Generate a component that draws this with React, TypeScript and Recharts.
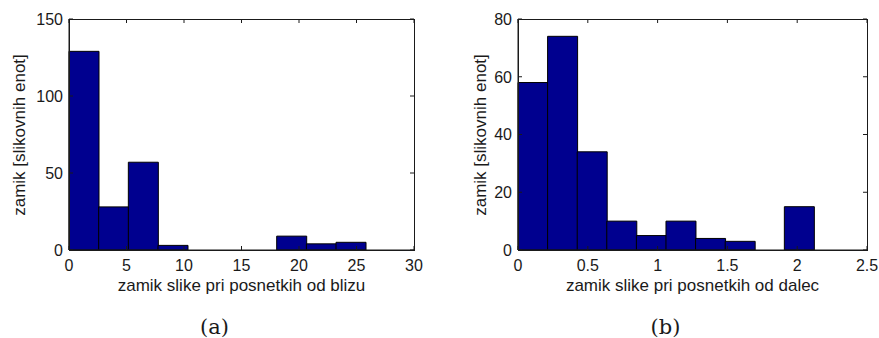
import React from 'react'
import { Bar, BarChart, ReferenceLine, XAxis, YAxis } from 'recharts'

// histogram (a): close-up shots
const binsA = [1.29, 3.87, 6.45, 9.03, 11.61, 14.19, 16.77, 19.35, 21.93, 24.51]
const countsA = [129, 28, 57, 3, 0, 0, 0, 9, 4, 5]
const xTicksA = [0, 5, 10, 15, 20, 25, 30]
const yTicksA = [0, 50, 100, 150]

// histogram (b): far shots
const binsB = [0.106, 0.318, 0.53, 0.742, 0.954, 1.166, 1.378, 1.59, 1.802, 2.014]
const countsB = [58, 74, 34, 10, 5, 10, 4, 3, 0, 15]
const xTicksB = [0, 0.5, 1, 1.5, 2, 2.5]
const yTicksB = [0, 20, 40, 60, 80]

const yLabel = 'zamik [slikovnih enot]'
const xLabelA = 'zamik slike pri posnetkih od blizu'
const xLabelB = 'zamik slike pri posnetkih od dalec'

const FONT = '"Liberation Sans", Arial, Helvetica, sans-serif'
const INK = '#1a1a1a'
const BAR = '#00008F'
const TL = 4

const BottomTick = (props: any) => {
  const { x, y, payload } = props
  return (
    <text x={x} y={y + 21} textAnchor="middle" fontSize={16} fontFamily={FONT} fill={INK}>
      {payload.value}
    </text>
  )
}

const LeftTick = (props: any) => {
  const { x, y, payload } = props
  return (
    <text x={x - 6} y={y} dy="0.36em" textAnchor="end" fontSize={16} fontFamily={FONT} fill={INK}>
      {payload.value}
    </text>
  )
}

// inward tick marks at both ends of a reference line (MATLAB-style box axes)
const VTickPair = (p: any) => {
  const top = Math.min(p.y1, p.y2)
  const bot = Math.max(p.y1, p.y2)
  return (
    <g>
      <line x1={p.x1} y1={top} x2={p.x1} y2={top + TL} stroke={INK} />
      <line x1={p.x1} y1={bot} x2={p.x1} y2={bot - TL} stroke={INK} />
    </g>
  )
}

const HTickPair = (p: any) => {
  const l = Math.min(p.x1, p.x2)
  const r = Math.max(p.x1, p.x2)
  return (
    <g>
      <line x1={l} y1={p.y1} x2={l + TL} y2={p.y1} stroke={INK} />
      <line x1={r} y1={p.y1} x2={r - TL} y2={p.y1} stroke={INK} />
    </g>
  )
}

type HistProps = {
  bins: number[]
  counts: number[]
  xTicks: number[]
  yTicks: number[]
  xLabel: string
  caption: string
  width: number
  yAxisWidth: number
  marginRight: number
  yLabelX: number
}

const Histogram = ({ bins, counts, xTicks, yTicks, xLabel, caption, width, yAxisWidth, marginRight, yLabelX }: HistProps) => {
  const data = bins.map((b, i) => ({ bin: b, count: counts[i] }))
  const xDomain = [xTicks[0], xTicks[xTicks.length - 1]]
  const yDomain = [yTicks[0], yTicks[yTicks.length - 1]]
  const plotLeft = yAxisWidth
  const plotRight = width - marginRight
  const plotTop = 19
  const plotBottom = 250
  const cx = (plotLeft + plotRight) / 2
  const cy = (plotTop + plotBottom) / 2
  const axisProps = { stroke: INK, tickLine: false, tickSize: 0, tickMargin: 0 }
  return (
    <div style={{ position: 'relative', width, height: 338 }}>
      <BarChart
        width={width}
        height={338}
        data={data}
        barCategoryGap={0}
        barGap={0}
        margin={{ top: plotTop, right: marginRight, bottom: 58, left: 0 }}
      >
        <XAxis
          dataKey="bin"
          type="number"
          domain={xDomain}
          ticks={xTicks}
          height={30}
          tick={<BottomTick />}
          {...axisProps}
        />
        <YAxis
          type="number"
          domain={yDomain}
          ticks={yTicks}
          width={yAxisWidth}
          tick={<LeftTick />}
          {...axisProps}
        />
        <Bar dataKey="count" fill={BAR} stroke="#000" strokeWidth={1} isAnimationActive={false} />
        {xTicks.map((t) => (
          <ReferenceLine key={'x' + t} x={t} ifOverflow="visible" shape={VTickPair} />
        ))}
        {yTicks.map((t) => (
          <ReferenceLine key={'y' + t} y={t} ifOverflow="visible" shape={HTickPair} />
        ))}
      </BarChart>
      {/* closed axes box */}
      <div
        style={{
          position: 'absolute',
          left: plotLeft - 0.5,
          top: plotTop - 0.5,
          width: plotRight - plotLeft + 1,
          height: plotBottom - plotTop + 1,
          boxSizing: 'border-box',
          border: `1px solid ${INK}`,
          pointerEvents: 'none',
        }}
      />
      <div
        style={{
          position: 'absolute',
          left: yLabelX,
          top: cy,
          transform: 'translate(-50%, -50%) rotate(-90deg)',
          whiteSpace: 'nowrap',
          fontFamily: FONT,
          fontSize: 17,
          lineHeight: '17px',
          color: INK,
        }}
      >
        {yLabel}
      </div>
      <div
        style={{
          position: 'absolute',
          left: cx,
          top: 277,
          transform: 'translateX(-50%)',
          whiteSpace: 'nowrap',
          fontFamily: FONT,
          fontSize: 17,
          lineHeight: '17px',
          color: INK,
        }}
      >
        {xLabel}
      </div>
      <div
        style={{
          position: 'absolute',
          left: cx - 27,
          top: 317,
          transform: 'translateX(-50%)',
          whiteSpace: 'nowrap',
          fontFamily: '"DejaVu Serif", serif',
          fontSize: 21,
          lineHeight: '21px',
          color: INK,
        }}
      >
        {caption}
      </div>
    </div>
  )
}

export default function App() {
  return (
    <div style={{ position: 'absolute', left: 0, top: 0, width: 879, height: 338, display: 'flex', background: '#fff' }}>
      <Histogram
        bins={binsA}
        counts={countsA}
        xTicks={xTicksA}
        yTicks={yTicksA}
        xLabel={xLabelA}
        caption="(a)"
        width={440}
        yAxisWidth={69}
        marginRight={26}
        yLabelX={19}
      />
      <Histogram
        bins={binsB}
        counts={countsB}
        xTicks={xTicksB}
        yTicks={yTicksB}
        xLabel={xLabelB}
        caption="(b)"
        width={439}
        yAxisWidth={78}
        marginRight={12}
        yLabelX={40}
      />
    </div>
  )
}
